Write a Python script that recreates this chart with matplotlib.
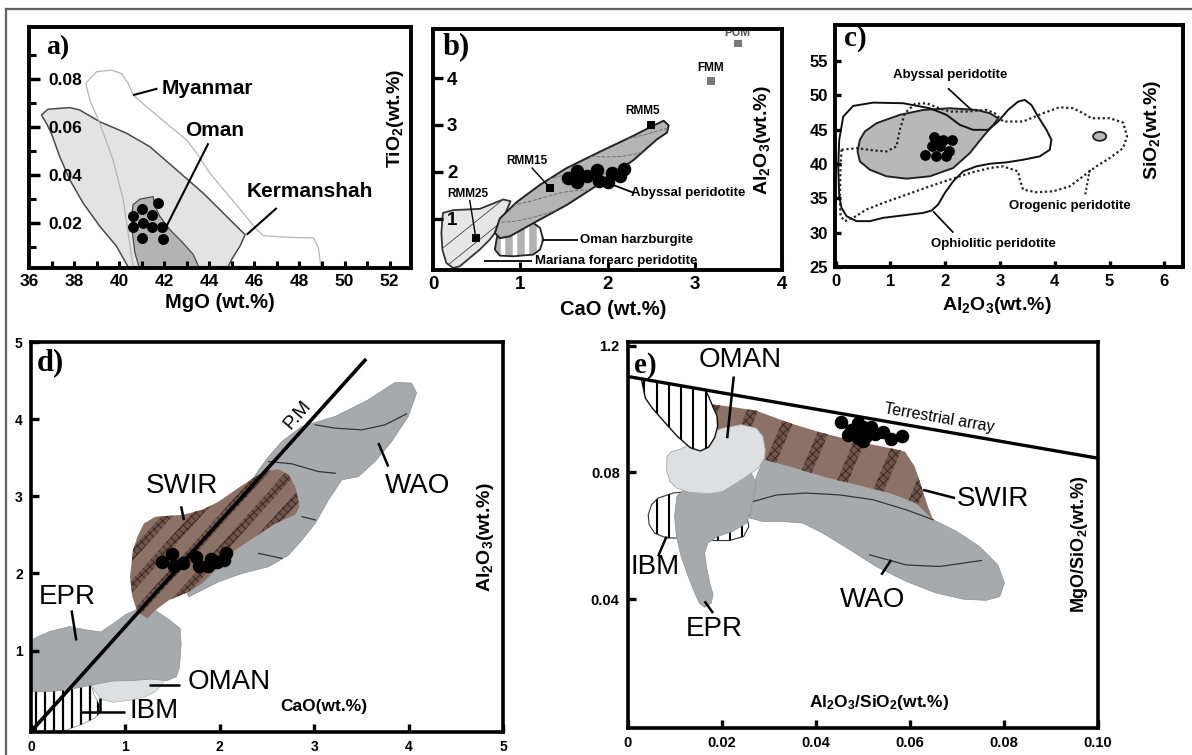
import numpy as np
import matplotlib
matplotlib.use('Agg')
import matplotlib.pyplot as plt
from matplotlib.patches import Polygon, Ellipse
from matplotlib.lines import Line2D

plt.rcParams['font.family'] = ['Liberation Sans', 'DejaVu Sans']
plt.rcParams['mathtext.default'] = 'regular'
plt.rcParams['hatch.linewidth'] = 0.7

# ------------------------------------------------------------------ data
# panel a : MgO vs TiO2
a_myanmar_x = [38.52, 38.99, 39.66, 40.10, 40.40, 40.62, 41.21, 42.10, 42.99, 43.44, 44.03, 44.77, 45.51,
               46.10, 46.40, 47.29, 48.62, 48.84, 48.95, 40.62, 40.40, 40.18, 39.73, 39.14, 38.70]
a_myanmar_y = [0.0782, 0.0830, 0.0837, 0.0823, 0.0782, 0.0733, 0.0685, 0.0615, 0.0546, 0.0491, 0.0407, 0.0324,
               0.0241, 0.0172, 0.0147, 0.0141, 0.0137, 0.0096, 0.0019, 0.0019, 0.0158, 0.0297, 0.0463, 0.0615, 0.0712]
a_kerm_x = [36.55, 36.84, 37.81, 38.25, 39.14, 40.33, 41.36, 42.55, 43.73, 44.77, 45.59, 45.36, 44.99, 44.77,
            40.47, 39.88, 39.14, 38.40, 37.81, 37.36, 36.99, 36.77]
a_kerm_y = [0.0650, 0.0674, 0.0681, 0.0671, 0.0622, 0.0574, 0.0518, 0.0421, 0.0324, 0.0227, 0.0151, 0.0103,
            0.0047, 0.0005, 0.0005, 0.0103, 0.0186, 0.0283, 0.0380, 0.0477, 0.0574, 0.0616]
a_oman_x = [40.62, 40.92, 41.51, 41.59, 41.81, 42.25, 42.84, 43.29, 43.59, 40.92, 40.70, 40.59, 40.55]
a_oman_y = [0.0276, 0.0299, 0.0310, 0.0269, 0.0227, 0.0172, 0.0116, 0.0068, 0.0005, 0.0005, 0.0075, 0.0158, 0.0227]
a_mgo = [41.73, 41.00, 40.62, 41.44, 40.62, 41.07, 41.44, 41.88, 41.00, 41.93]
a_tio2 = [0.0283, 0.0258, 0.0227, 0.0234, 0.0185, 0.0200, 0.0185, 0.0185, 0.0137, 0.0133]

# panel b : CaO vs Al2O3
b_abyssal_x = [0.709, 0.766, 0.958, 1.226, 1.533, 1.916, 2.299, 2.529, 2.644, 2.701, 2.682, 2.567, 2.299,
               1.916, 1.533, 1.149, 0.881, 0.766]
b_abyssal_y = [0.693, 1.000, 1.350, 1.720, 2.080, 2.430, 2.770, 2.990, 3.090, 2.990, 2.836, 2.693, 2.250,
               1.750, 1.290, 0.900, 0.620, 0.580]
b_mariana_x = [0.115, 0.230, 0.536, 0.805, 0.889, 0.766, 0.651, 0.536, 0.421, 0.307, 0.230, 0.153, 0.107, 0.096, 0.107]
b_mariana_y = [1.121, 1.179, 1.207, 1.407, 1.371, 0.836, 0.550, 0.336, 0.157, -0.021, -0.057, 0.050, 0.336, 0.693, 0.979]
b_omanh_x = [0.766, 0.881, 1.149, 1.226, 1.264, 1.226, 1.149, 0.920, 0.766, 0.709, 0.728]
b_omanh_y = [0.836, 0.893, 0.907, 0.800, 0.550, 0.336, 0.229, 0.193, 0.207, 0.336, 0.550]
b_ref_names = ['RMM5', 'RMM15', 'RMM25', 'FMM', 'PUM']
b_ref_cao = [2.498, 1.341, 0.490, 3.188, 3.494]
b_ref_al = [2.993, 1.657, 0.586, 3.943, 4.743]
b_cao = [1.552, 1.655, 1.648, 1.762, 1.885, 1.908, 2.011, 2.050, 2.146, 2.184]
b_al2o3 = [1.871, 2.014, 1.779, 1.907, 2.036, 1.800, 1.779, 1.964, 1.907, 2.050]

# panel c : Al2O3 vs SiO2
c_abyssal_x = [0.444, 0.535, 0.748, 1.173, 1.599, 2.085, 2.571, 2.815, 2.967, 2.906, 2.693, 2.450, 2.146,
               1.720, 1.295, 0.930, 0.626, 0.444, 0.401]
c_abyssal_y = [43.50, 44.71, 45.92, 47.13, 47.85, 48.09, 47.85, 47.37, 46.64, 45.92, 43.99, 41.57, 39.40,
               38.19, 37.85, 38.19, 39.15, 40.36, 41.81]
c_ophio_x = [0.067, 0.140, 0.322, 0.687, 1.234, 1.720, 2.024, 2.267, 2.511, 2.784, 2.967, 3.149, 3.331, 3.453,
             3.574, 3.696, 3.848, 3.939, 3.909, 3.726, 3.422, 3.119, 2.815, 2.571, 2.328, 2.146, 1.994, 1.872,
             1.751, 1.599, 1.356, 1.112, 0.869, 0.626, 0.383, 0.201, 0.109, 0.067, 0.049]
c_ophio_y = [43.50, 46.88, 48.43, 48.91, 48.82, 48.09, 47.13, 45.68, 44.95, 44.95, 46.16, 47.85, 49.06, 49.30,
             48.57, 46.88, 44.95, 43.50, 42.05, 41.09, 40.60, 40.22, 40.02, 39.64, 38.91, 37.46, 35.77, 34.08,
             33.21, 32.87, 32.63, 32.39, 32.15, 31.67, 31.67, 32.39, 33.60, 35.29, 39.64]
c_orog_x = [0.109, 0.383, 0.687, 0.930, 1.112, 1.173, 1.264, 1.447, 1.660, 1.842, 2.085, 2.389, 2.754, 2.906,
            3.058, 3.422, 3.787, 4.091, 4.334, 4.517, 4.669, 5.003, 5.246, 5.319, 5.246, 5.003, 4.760, 4.517,
            4.274, 3.970, 3.666, 3.422, 3.362, 3.331, 3.058, 2.815, 2.450, 2.085, 1.720, 1.295, 0.869, 0.565,
            0.322, 0.170, 0.091, 0.079, 0.091]
c_orog_y = [42.05, 42.29, 41.96, 41.81, 42.54, 44.95, 47.37, 48.72, 48.82, 48.24, 47.61, 47.61, 47.85, 47.37,
            46.16, 46.16, 47.37, 48.24, 48.09, 47.37, 46.64, 46.64, 46.01, 43.99, 42.29, 40.85, 39.64, 38.19,
            36.74, 36.01, 35.87, 36.26, 37.71, 38.91, 39.64, 39.40, 38.67, 37.71, 36.74, 35.53, 34.32, 33.36,
            32.15, 31.67, 32.39, 34.81, 39.64]
c_blob_center = (4.82, 44.0)
c_al2o3 = [1.793, 1.964, 2.116, 1.751, 1.915, 2.073, 1.629, 1.830, 2.024, 1.884]
c_sio2 = [43.89, 43.50, 43.41, 42.54, 42.54, 41.81, 41.33, 41.18, 41.09, 43.26]

# panel d : CaO vs Al2O3
d_pm_x = [0.0, 3.55]
d_pm_y = [-0.05, 4.78]
d_wao_x = [1.673, 1.989, 2.236, 2.518, 2.729, 2.870, 3.011, 3.151, 3.292, 3.468, 3.644, 3.820, 3.996, 4.085,
           4.032, 3.856, 3.574, 3.222, 2.870, 2.658, 2.518, 2.412, 2.236, 1.989, 1.743, 1.602]
d_wao_y = [1.697, 1.892, 2.000, 2.087, 2.238, 2.433, 2.649, 2.952, 3.212, 3.255, 3.450, 3.710, 4.035, 4.338,
           4.468, 4.476, 4.251, 4.035, 3.905, 3.710, 3.515, 3.342, 2.996, 2.606, 2.173, 1.870]
d_wao_lines = [
    ([3.011, 3.222, 3.504, 3.750, 3.979], [3.926, 3.883, 3.861, 3.926, 4.069]),
    ([2.518, 2.764, 3.046, 3.222], [3.450, 3.420, 3.320, 3.299]),
    ([2.870, 3.011], [2.736, 2.693]),
    ([2.412, 2.658], [2.260, 2.195]),
]
d_swir_x = [1.197, 1.320, 1.602, 1.813, 1.989, 2.165, 2.377, 2.518, 2.623, 2.729, 2.799, 2.845, 2.799, 2.588,
            2.377, 2.165, 1.954, 1.813, 1.673, 1.461, 1.320, 1.232, 1.127, 1.074, 1.049, 1.081, 1.127]
d_swir_y = [2.649, 2.736, 2.758, 2.823, 2.931, 3.082, 3.255, 3.333, 3.351, 3.277, 3.126, 2.866, 2.758, 2.649,
            2.476, 2.303, 2.043, 1.870, 1.762, 1.654, 1.524, 1.416, 1.502, 1.697, 1.957, 2.303, 2.476]
d_epr_x = [0.0, 0.073, 0.207, 0.407, 0.573, 0.740, 0.873, 1.007, 1.140, 1.307, 1.473, 1.580, 1.590, 1.573,
           1.540, 1.440, 1.273, 1.073, 0.873, 0.707, 0.540, 0.373, 0.207, 0.073, 0.0]
d_epr_y = [1.13, 1.18, 1.25, 1.31, 1.27, 1.24, 1.35, 1.47, 1.54, 1.53, 1.39, 1.285, 1.09, 0.78, 0.66, 0.61,
           0.63, 0.61, 0.605, 0.57, 0.526, 0.49, 0.47, 0.465, 0.47]
d_oman_x = [0.623, 0.673, 0.747, 0.873, 1.040, 1.207, 1.313, 1.390, 1.413, 1.307, 0.873]
d_oman_y = [0.627, 0.474, 0.364, 0.329, 0.355, 0.399, 0.465, 0.553, 0.640, 0.684, 0.684]
d_ibm_x = [0.0, 0.273, 0.540, 0.633, 0.667, 0.723, 0.747, 0.673, 0.540, 0.373, 0.207, 0.0]
d_ibm_y = [0.48, 0.509, 0.535, 0.583, 0.430, 0.298, 0.210, 0.123, 0.044, -0.031, -0.06, -0.06]
d_cao = [1.391, 1.496, 1.514, 1.606, 1.743, 1.775, 1.880, 1.912, 1.972, 2.063, 2.049]
d_al2o3 = [2.152, 2.247, 2.095, 2.134, 2.208, 2.095, 2.095, 2.190, 2.152, 2.264, 2.169]

# panel e : Al2O3/SiO2 vs MgO/SiO2
e_terr_x = [0.0, 0.10]
e_terr_y = [0.1103, 0.0845]
e_ibm1_x = [0.00284, 0.00369, 0.00511, 0.00759, 0.01043, 0.01326, 0.01539, 0.01716, 0.01844, 0.01908,
            0.01894, 0.01801, 0.01716, 0.01645]
e_ibm1_y = [0.1096, 0.1035, 0.1004, 0.0962, 0.0915, 0.0878, 0.0868, 0.0880, 0.0910, 0.0946, 0.0978,
            0.1009, 0.1040, 0.1061]
e_ibm2_x = [0.0043, 0.0050, 0.0064, 0.0096, 0.0131, 0.0188, 0.0252, 0.0257, 0.0246, 0.0216, 0.0181,
            0.0131, 0.0082, 0.0057, 0.0045]
e_ibm2_y = [0.0666, 0.0698, 0.0719, 0.0735, 0.0740, 0.0682, 0.0672, 0.0629, 0.0598, 0.0585, 0.0585,
            0.0593, 0.0593, 0.0608, 0.0635]
e_wao_x = [0.0252, 0.0262, 0.0273, 0.0291, 0.0344, 0.0415, 0.0486, 0.0557, 0.0613, 0.0649, 0.0699, 0.0748,
           0.0787, 0.0801, 0.0791, 0.0762, 0.0713, 0.0656, 0.0592, 0.0528, 0.0472, 0.0415, 0.0372, 0.0330,
           0.0287, 0.0259]
e_wao_y = [0.0682, 0.0719, 0.0787, 0.0851, 0.0825, 0.0793, 0.0767, 0.0741, 0.0709, 0.0651, 0.0614, 0.0566,
           0.0508, 0.0451, 0.0408, 0.0396, 0.0400, 0.0419, 0.0456, 0.0503, 0.0556, 0.0608, 0.0640, 0.0645,
           0.0645, 0.0656]
e_wao_lines = [
    ([0.0266, 0.0316, 0.0379, 0.0450, 0.0521, 0.0592, 0.0649], [0.0708, 0.0729, 0.0735, 0.0729, 0.0714, 0.0682, 0.0651]),
    ([0.0514, 0.0592, 0.0663, 0.0752], [0.0540, 0.0508, 0.0503, 0.0522]),
]
e_swir_x = [0.0145, 0.0167, 0.0216, 0.0273, 0.0344, 0.0415, 0.0486, 0.0557, 0.0589, 0.0610, 0.0624, 0.0638,
            0.0649, 0.0613, 0.0557, 0.0486, 0.0415, 0.0344, 0.0291, 0.0238, 0.0188, 0.0152, 0.0145]
e_swir_y = [0.1008, 0.1017, 0.1008, 0.0995, 0.0956, 0.0924, 0.0898, 0.0877, 0.0866, 0.0819, 0.0756, 0.0693,
            0.0651, 0.0703, 0.0735, 0.0761, 0.0787, 0.0819, 0.0840, 0.0893, 0.0935, 0.0951, 0.0977]
e_epr_x = [0.0104, 0.0099, 0.0103, 0.0113, 0.0128, 0.0142, 0.0152, 0.0163, 0.0177, 0.0181, 0.0174, 0.0167,
           0.0163, 0.0170, 0.0191, 0.0223, 0.0252, 0.0262, 0.0273, 0.0259, 0.0131]
e_epr_y = [0.0724, 0.0661, 0.0598, 0.0535, 0.0472, 0.0419, 0.0387, 0.0374, 0.0387, 0.0414, 0.0451, 0.0503,
           0.0545, 0.0577, 0.0598, 0.0614, 0.0640, 0.0682, 0.0766, 0.0808, 0.0766]
e_oman_x = [0.0083, 0.0092, 0.0113, 0.0138, 0.0167, 0.0202, 0.0241, 0.0273, 0.0287, 0.0292, 0.0291, 0.0277,
            0.0252, 0.0230, 0.0202, 0.0174, 0.0131, 0.0103, 0.0089, 0.0082]
e_oman_y = [0.0851, 0.0866, 0.0874, 0.0898, 0.0924, 0.0940, 0.0951, 0.0940, 0.0914, 0.0872, 0.0845, 0.0814,
            0.0787, 0.0766, 0.0740, 0.0733, 0.0737, 0.0751, 0.0772, 0.0808]
e_al_si = [0.0454, 0.0475, 0.0489, 0.0501, 0.0516, 0.0468, 0.0489, 0.0507, 0.0525, 0.0543, 0.0560, 0.0582, 0.0500]
e_mg_si = [0.0958, 0.0935, 0.0956, 0.0943, 0.0945, 0.0919, 0.0908, 0.0916, 0.0922, 0.0929, 0.0905, 0.0916, 0.0898]

# ------------------------------------------------------------------ helpers
BOLD = dict(fontweight='bold')
SERIF = ['Liberation Serif', 'DejaVu Serif']


def poly(ax, xs, ys, fc, ec='none', lw=0.0, z=1, ls='-'):
    p = Polygon(np.column_stack([xs, ys]), closed=True, facecolor=fc, edgecolor=ec,
                linewidth=lw, zorder=z, linestyle=ls, joinstyle='round')
    ax.add_patch(p)
    return p


def vlines_clipped(ax, clip, x0, x1, step, y0, y1, color='k', lw=1.5, z=2):
    for x in np.arange(x0, x1, step):
        ln, = ax.plot([x, x], [y0, y1], color=color, lw=lw, zorder=z, solid_capstyle='butt')
        ln.set_clip_path(clip)


def bands_clipped(ax, clip, slope, x0, x1, step, width, y0, y1, z=2, **kw):
    for x in np.arange(x0, x1, step):
        xt = x + (y1 - y0) / slope
        p = Polygon([(x, y0), (x + width, y0), (xt + width, y1), (xt, y1)], closed=True,
                    zorder=z, linewidth=0, **kw)
        ax.add_patch(p)
        p.set_clip_path(clip)


def leader(ax, p0, p1, lw=1.5, z=6):
    ax.add_line(Line2D([p0[0], p1[0]], [p0[1], p1[1]], color='k', lw=lw, zorder=z, solid_capstyle='butt'))


def frame(ax, lw=2.6):
    for s in ax.spines.values():
        s.set_linewidth(lw)
        s.set_color('black')
        s.set_zorder(20)
    ax.xaxis.set_zorder(21)
    ax.yaxis.set_zorder(21)


fig = plt.figure(figsize=(11.92, 7.55), dpi=100)

# outer frame lines
fig.add_artist(Line2D([6 / 1192, 1.0], [1 - 9 / 755, 1 - 9 / 755], color='#606060', lw=1.6))
fig.add_artist(Line2D([6 / 1192, 6 / 1192], [0.0, 1 - 9 / 755], color='#606060', lw=1.6))

# ================================================================== panel a
ax = fig.add_axes([29 / 1192, 1 - 268 / 755, 382 / 1192, 241 / 755])
ax.set_xlim(36, 52.95)
ax.set_ylim(0.0012, 0.1017)
frame(ax, 2.8)
poly(ax, a_kerm_x, a_kerm_y, '#e3e3e3', '#4a4a4a', 1.1, z=2)
poly(ax, a_myanmar_x, a_myanmar_y, 'none', '#b5b5b5', 0.9, z=3)
poly(ax, a_oman_x, a_oman_y, '#b3b3b3', '#4a4a4a', 0.9, z=4)
ax.scatter(a_mgo, a_tio2, s=62, color='black', zorder=8, linewidths=0)
ax.text(41.9, 0.0762, 'Myanmar', fontsize=15, ha='left', va='center', **BOLD)
leader(ax, (40.62, 0.0733), (41.7, 0.0760))
ax.text(42.92, 0.0585, 'Oman', fontsize=15, ha='left', va='center', **BOLD)
leader(ax, (43.96, 0.0532), (42.10, 0.0186))
ax.text(45.66, 0.0330, 'Kermanshah', fontsize=15, ha='left', va='center', **BOLD)
leader(ax, (46.99, 0.0262), (45.66, 0.0151))
ax.text(0.96, 0.62, 'TiO$_2$(wt.%)', transform=ax.transAxes, rotation=90, fontsize=14,
        ha='center', va='center', **BOLD)
ax.text(0.5, -0.145, 'MgO (wt.%)', transform=ax.transAxes, fontsize=14.5, ha='center', va='center', **BOLD)
ax.text(0.045, 0.965, 'a)', transform=ax.transAxes, fontsize=20, ha='left', va='top',
        family=SERIF, fontweight='bold')
ax.set_xticks(np.arange(36, 53, 2))
ax.set_xticks(np.arange(37, 53, 2), minor=True)
ax.set_xticklabels([str(v) for v in range(36, 53, 2)], fontsize=12.5, fontweight='bold')
ax.set_yticks([0.02, 0.04, 0.06, 0.08])
ax.set_yticks([0.01, 0.03, 0.05, 0.07, 0.09], minor=True)
ax.set_yticklabels(['0.02', '0.04', '0.06', '0.08'], fontsize=12.5, fontweight='bold')
ax.tick_params(axis='x', which='both', direction='in', length=5, width=2.2, pad=4)
ax.tick_params(axis='y', which='major', direction='in', length=8, width=2.5, pad=-14)
ax.tick_params(axis='y', which='minor', direction='in', length=5, width=2.2)
plt.setp(ax.get_yticklabels(), ha='left')

# ================================================================== panel b
ax = fig.add_axes([433 / 1192, 1 - 270 / 755, 349 / 1192, 241 / 755])
ax.set_xlim(0, 4.0)
ax.set_ylim(-0.1, 5.05)
frame(ax, 2.8)
pm = poly(ax, b_mariana_x, b_mariana_y, '#e6e6e6', '#333333', 1.3, z=2)
for k in np.arange(-1.6, 0.6, 0.45):
    ln, = ax.plot([0, 1.2], [k, k + 1.2 * 1.5], color='#444444', lw=0.6, zorder=3)
    ln.set_clip_path(pm)
po = poly(ax, b_omanh_x, b_omanh_y, '#b2b2b2', 'none', 0, z=3)
vlines_clipped(ax, po, 0.80, 1.35, 0.14, -0.2, 1.2, color='white', lw=3.2, z=4)
poly(ax, b_omanh_x, b_omanh_y, 'none', '#222222', 1.3, z=5)
pa = poly(ax, b_abyssal_x, b_abyssal_y, '#b4b4b4', '#222222', 1.4, z=6)
for k in np.arange(0.2, 3.3, 0.36):
    xx = np.linspace(0.6, 2.8, 60)
    yy = k + 0.25 * (xx - 0.6) + 0.06 * np.sin(xx * 5.0)
    ln, = ax.plot(xx, yy, color='#707070', lw=0.7, ls=(0, (4, 1.5)), zorder=7)
    ln.set_clip_path(pa)
ax.scatter(b_cao, b_al2o3, s=95, color='black', zorder=9, linewidths=0)
ref_colors = ['black', 'black', 'black', '#7a7a7a', '#7a7a7a']
ax.scatter(b_ref_cao, b_ref_al, s=30, marker='s', c=ref_colors, zorder=9, linewidths=0)
ax.text(2.40, 3.30, b_ref_names[0], fontsize=8.5, ha='center', va='center', **BOLD)
ax.text(1.08, 2.23, b_ref_names[1], fontsize=8.5, ha='center', va='center', **BOLD)
leader(ax, (1.13, 2.09), (1.33, 1.68), lw=1.0)
ax.text(0.40, 1.53, b_ref_names[2], fontsize=8.5, ha='center', va='center', **BOLD)
leader(ax, (0.42, 1.40), (0.49, 0.60), lw=1.0)
ax.text(3.18, 4.22, b_ref_names[3], fontsize=8.5, ha='center', va='center', **BOLD)
ax.text(3.49, 4.97, b_ref_names[4], fontsize=8.5, ha='center', va='center', color='#555555', **BOLD)
ax.text(2.93, 1.55, 'Abyssal peridotite', fontsize=9.5, ha='center', va='center', **BOLD)
leader(ax, (1.95, 1.80), (2.30, 1.55), lw=1.3)
ax.text(1.68, 0.55, 'Oman harzburgite', fontsize=9.5, ha='left', va='center', **BOLD)
leader(ax, (1.264, 0.55), (1.66, 0.55), lw=1.3)
ax.text(1.17, 0.09, 'Mariana forearc peridotite', fontsize=9.5, ha='left', va='center', **BOLD)
leader(ax, (0.58, 0.09), (1.14, 0.09), lw=1.3)
ax.text(0.945, 0.54, 'Al$_2$O$_3$(wt.%)', transform=ax.transAxes, rotation=90, fontsize=14,
        ha='center', va='center', **BOLD)
ax.text(0.517, -0.165, 'CaO (wt.%)', transform=ax.transAxes, fontsize=14.5, ha='center', va='center', **BOLD)
ax.text(0.028, 0.985, 'b)', transform=ax.transAxes, fontsize=22, ha='left', va='top',
        family=SERIF, fontweight='bold')
ax.set_xticks([0, 1, 2, 3, 4])
ax.set_xticklabels(['0', '1', '2', '3', '4'], fontsize=13.5, fontweight='bold')
ax.set_yticks([1, 2, 3, 4])
ax.set_yticklabels(['1', '2', '3', '4'], fontsize=13.5, fontweight='bold')
ax.tick_params(axis='x', direction='in', length=6, width=2.2, pad=4)
ax.tick_params(axis='y', direction='in', length=7, width=2.4, pad=-10)
plt.setp(ax.get_yticklabels(), ha='left')

# ================================================================== panel c
ax = fig.add_axes([835 / 1192, 1 - 267 / 755, 348 / 1192, 242 / 755])
ax.set_xlim(-0.01, 6.34)
ax.set_ylim(25, 60.2)
frame(ax, 2.8)
poly(ax, c_abyssal_x, c_abyssal_y, '#b8b8b8', '#222222', 1.4, z=2)
poly(ax, c_ophio_x, c_ophio_y, 'none', '#111111', 1.4, z=3)
poly(ax, c_orog_x, c_orog_y, 'none', '#222222', 1.6, z=3, ls=(0, (1, 1.2)))
ax.add_patch(Ellipse(c_blob_center, 0.24, 1.3, facecolor='#b8b8b8', edgecolor='#222222', lw=1.3, zorder=4))
ax.scatter(c_al2o3, c_sio2, s=60, color='black', zorder=8, linewidths=0)
ax.text(2.09, 52.9, 'Abyssal peridotite', fontsize=9.5, ha='center', va='center', **BOLD)
leader(ax, (2.05, 51.0), (2.48, 47.85), lw=1.2)
ax.text(4.27, 33.9, 'Orogenic peridotite', fontsize=9.5, ha='center', va='center', **BOLD)
ax.add_line(Line2D([4.64, 4.55], [39.15, 35.3], color='#222222', lw=1.5, ls=(0, (1, 1.2)), zorder=6))
ax.text(2.88, 28.3, 'Ophiolitic peridotite', fontsize=9.5, ha='center', va='center', **BOLD)
leader(ax, (1.78, 33.1), (2.15, 30.0), lw=1.2)
ax.text(0.912, 0.566, 'SiO$_2$(wt.%)', transform=ax.transAxes, rotation=90, fontsize=14,
        ha='center', va='center', **BOLD)
ax.text(0.464, -0.16, 'Al$_2$O$_3$(wt.%)', transform=ax.transAxes, fontsize=14, ha='center',
        va='center', **BOLD)
ax.text(0.025, 1.0, 'c)', transform=ax.transAxes, fontsize=21, ha='left', va='top',
        family=SERIF, fontweight='bold')
ax.set_xticks([0, 1, 2, 3, 4, 5, 6])
ax.set_xticklabels(['0', '1', '2', '3', '4', '5', '6'], fontsize=12, fontweight='bold')
ax.set_yticks([25, 30, 35, 40, 45, 50, 55])
ax.set_yticklabels(['25', '30', '35', '40', '45', '50', '55'], fontsize=12, fontweight='bold')
ax.tick_params(axis='both', direction='in', length=4, width=2.4, pad=5)

# ================================================================== panel d
ax = fig.add_axes([31 / 1192, 1 - 732 / 755, 472 / 1192, 390 / 755])
ax.set_xlim(0, 5)
ax.set_ylim(-0.056, 5.0)
frame(ax, 2.6)
GRAY = '#a7aaad'
BROWN = '#8c7166'
poly(ax, d_wao_x, d_wao_y, GRAY, '#8d9093', 0.5, z=2)
for lx, ly in d_wao_lines:
    ax.plot(lx, ly, color='#333333', lw=0.9, zorder=3)
pib = poly(ax, d_ibm_x, d_ibm_y, 'white', '#9a9a9a', 0.6, z=2)
vlines_clipped(ax, pib, 0.05, 0.80, 0.095, -0.1, 0.7, color='black', lw=1.6, z=3)
poly(ax, d_oman_x, d_oman_y, '#dedfe0', '#b0b0b0', 0.5, z=4)
poly(ax, d_epr_x, d_epr_y, GRAY, '#8d9093', 0.5, z=5)
psw = poly(ax, d_swir_x, d_swir_y, BROWN, 'none', 0, z=6)
bands_clipped(ax, psw, 1.36, -2.0, 3.5, 0.30, 0.12, 1.0, 3.6, z=7,
              facecolor='#6f564c', edgecolor='#3c2a24', hatch='xxxx')
ax.plot(d_pm_x, d_pm_y, color='black', lw=2.6, zorder=9, solid_capstyle='butt')
ax.scatter(d_cao, d_al2o3, s=95, color='black', zorder=10, linewidths=0)
ax.text(2.82, 4.05, 'P.M', fontsize=14, rotation=49, ha='center', va='center', rotation_mode='anchor')
ax.text(1.60, 3.13, 'SWIR', fontsize=20, ha='center', va='center')
leader(ax, (1.59, 2.87), (1.62, 2.69), lw=1.8)
ax.text(4.10, 3.13, 'WAO', fontsize=20, ha='center', va='center')
leader(ax, (3.68, 3.69), (3.785, 3.385), lw=1.8)
ax.text(0.38, 1.70, 'EPR', fontsize=20, ha='center', va='center')
leader(ax, (0.43, 1.52), (0.48, 1.13), lw=1.8)
ax.text(1.66, 0.59, 'OMAN', fontsize=20, ha='left', va='center')
leader(ax, (1.25, 0.55), (1.58, 0.55), lw=1.8)
ax.text(1.04, 0.22, 'IBM', fontsize=20, ha='left', va='center')
leader(ax, (0.52, 0.20), (1.00, 0.20), lw=1.8)
leader(ax, (0.73, 0.20), (0.73, 0.38), lw=1.8)
ax.text(3.10, 0.28, 'CaO(wt.%)', fontsize=12.5, ha='center', va='center', **BOLD)
ax.text(0.962, 0.50, 'Al$_2$O$_3$(wt.%)', transform=ax.transAxes, rotation=90, fontsize=14,
        ha='center', va='center', **BOLD)
ax.text(0.012, 0.985, 'd)', transform=ax.transAxes, fontsize=22, ha='left', va='top',
        family=SERIF, fontweight='bold')
ax.set_xticks([0, 1, 2, 3, 4, 5])
ax.set_xticklabels(['0', '1', '2', '3', '4', '5'], fontsize=10, fontweight='bold')
ax.set_yticks([1, 2, 3, 4, 5])
ax.set_yticklabels(['1', '2', '3', '4', '5'], fontsize=10, fontweight='bold')
ax.tick_params(axis='both', direction='in', length=6, width=2.4, pad=6)

# ================================================================== panel e
ax = fig.add_axes([628 / 1192, 1 - 728 / 755, 470 / 1192, 386 / 755])
ax.set_xlim(0, 0.10)
ax.set_ylim(-0.0007, 0.1212)
frame(ax, 2.6)
pib2 = poly(ax, e_ibm2_x, e_ibm2_y, 'white', '#333333', 0.8, z=2)
vlines_clipped(ax, pib2, 0.0035, 0.03, 0.0026, 0.05, 0.08, color='black', lw=1.5, z=3)
poly(ax, e_wao_x, e_wao_y, GRAY, '#8d9093', 0.5, z=4)
for lx, ly in e_wao_lines:
    ax.plot(lx, ly, color='#333333', lw=0.9, zorder=5)
psw = poly(ax, e_swir_x, e_swir_y, BROWN, 'none', 0, z=5)
bands_clipped(ax, psw, 3.5, -0.02, 0.08, 0.0085, 0.0024, 0.06, 0.11, z=6,
              facecolor='#6f564c', edgecolor='#3c2a24', hatch='xxxx')
poly(ax, e_epr_x, e_epr_y, GRAY, '#8d9093', 0.5, z=7)
poly(ax, e_oman_x, e_oman_y, '#dedfe0', '#a8a8a8', 0.6, z=8)
pib1 = poly(ax, e_ibm1_x, e_ibm1_y, 'white', '#111111', 1.0, z=8)
vlines_clipped(ax, pib1, 0.0035, 0.022, 0.0026, 0.08, 0.115, color='black', lw=1.5, z=9)
ax.plot(e_terr_x, e_terr_y, color='black', lw=2.4, zorder=10)
ax.scatter(e_al_si, e_mg_si, s=95, color='black', zorder=11, linewidths=0)
ax.text(0.0663, 0.0972, 'Terrestrial array', fontsize=11.5, rotation=-9.8, ha='center', va='center',
        rotation_mode='anchor')
ax.text(0.0238, 0.1156, 'OMAN', fontsize=20, ha='center', va='center')
leader(ax, (0.0225, 0.1103), (0.0211, 0.0908), lw=1.8, z=12)
ax.text(0.0700, 0.0716, 'SWIR', fontsize=20, ha='left', va='center')
leader(ax, (0.0628, 0.0745), (0.0696, 0.0719), lw=1.8, z=12)
ax.text(0.0057, 0.0500, 'IBM', fontsize=20, ha='center', va='center')
leader(ax, (0.0064, 0.0535), (0.0082, 0.0598), lw=1.8, z=12)
ax.text(0.0521, 0.0398, 'WAO', fontsize=20, ha='center', va='center')
leader(ax, (0.0539, 0.0477), (0.0560, 0.0524), lw=1.8, z=12)
ax.text(0.0184, 0.0306, 'EPR', fontsize=20, ha='center', va='center')
leader(ax, (0.0163, 0.0393), (0.0181, 0.0356), lw=1.8, z=12)
ax.text(0.0535, 0.0072, 'Al$_2$O$_3$/SiO$_2$(wt.%)', fontsize=12.5, ha='center', va='center', **BOLD)
ax.text(0.961, 0.475, 'MgO/SiO$_2$(wt.%)', transform=ax.transAxes, rotation=90, fontsize=13,
        ha='center', va='center', **BOLD)
ax.text(0.012, 0.975, 'e)', transform=ax.transAxes, fontsize=21, ha='left', va='top',
        family=SERIF, fontweight='bold')
ax.set_xticks([0, 0.02, 0.04, 0.06, 0.08, 0.10])
ax.set_xticklabels(['0', '0.02', '0.04', '0.06', '0.08', '0.10'], fontsize=10.5, fontweight='bold')
ax.set_yticks([0.04, 0.08, 0.12])
ax.set_yticklabels(['0.04', '0.08', '1.2'], fontsize=10.5, fontweight='bold')
ax.tick_params(axis='both', direction='in', length=6, width=2.4, pad=6)

fig.savefig('out.png', dpi=100)
